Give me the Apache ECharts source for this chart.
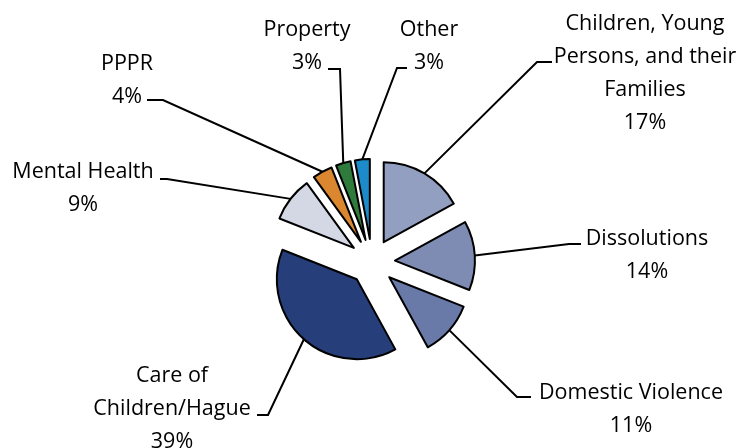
<!DOCTYPE html>
<html>
<head>
<meta charset="utf-8">
<script src="https://cdn.jsdelivr.net/npm/echarts@6/dist/echarts.min.js"></script>
<style>
  html, body { margin: 0; padding: 0; background: #fff; }
  #chart { width: 738px; height: 448px; }
</style>
</head>
<body>
<div id="chart"></div>
<script>
// 类别，从12点方向顺时针
var categories = [
  'Children, Young\nPersons, and their\nFamilies',
  'Dissolutions',
  'Domestic Violence',
  'Care of\nChildren/Hague',
  'Mental Health',
  'PPPR',
  'Property',
  'Other'
];
// 占比 (%)
var shares = [17, 14, 11, 39, 9, 4, 3, 3];

var sliceColors = ['#929fc0', '#7e8cb4', '#6a7aa8', '#263e79', '#d4d8e5', '#db872f', '#2f7b3b', '#1d8bc9'];

// 标签位置：文字块中心 + 引导线末端的短横线
var labelSpots = [
  { x: 645, y: 73, elbow: 537, end: 552, lineY: 62 },
  { x: 647, y: 255, elbow: 569, end: 581, lineY: 244 },
  { x: 631, y: 409, elbow: 517, end: 531, lineY: 397 },
  { x: 172, y: 409, elbow: 268, end: 257, lineY: 415 },
  { x: 83, y: 188, elbow: 167, end: 160, lineY: 179 },
  { x: 127, y: 80, elbow: 163, end: 147, lineY: 100 },
  { x: 307, y: 46, elbow: 340, end: 328, lineY: 69 },
  { x: 429, y: 46, elbow: 397, end: 407, lineY: 68 }
];

var pieCenter = [372, 262];
var pieRadius = 80;
var explode = 23;

var chart = echarts.init(document.getElementById('chart'));

// 分离的扇区（选中态实现爆炸效果），不带标签
var sliceData = categories.map(function (name, i) {
  return {
    name: name,
    value: shares[i],
    selected: true,
    itemStyle: { color: sliceColors[i] }
  };
});

// 透明的同一组数据，只用来放标签和引导线
var labelData = categories.map(function (name, i) {
  return { name: name, value: shares[i] };
});

chart.setOption({
  animation: false,
  series: [{
    type: 'pie',
    center: pieCenter,
    radius: pieRadius,
    startAngle: 90,
    clockwise: true,
    selectedMode: 'multiple',
    selectedOffset: explode,
    silent: true,
    emphasis: { disabled: true },
    itemStyle: { borderColor: '#000', borderWidth: 2 },
    label: { show: false },
    labelLine: { show: false },
    data: sliceData
  }, {
    type: 'pie',
    center: pieCenter,
    radius: pieRadius,
    startAngle: 90,
    clockwise: true,
    silent: true,
    avoidLabelOverlap: false,
    emphasis: { disabled: true },
    itemStyle: { color: 'rgba(0,0,0,0)', borderWidth: 0 },
    label: {
      show: true,
      position: 'outside',
      formatter: function (p) { return p.name + '\n' + p.value + '%'; },
      fontFamily: 'Open Sans',
      fontSize: 21.5,
      lineHeight: 33,
      color: '#000',
      align: 'center'
    },
    labelLine: {
      show: true,
      length: 20,
      length2: 10,
      lineStyle: { color: '#000', width: 2 }
    },
    labelLayout: function (params) {
      var spot = labelSpots[params.dataIndex];
      var p0 = params.labelLinePoints[0];
      // 起点跟着分离出去的扇区移动
      var vx = p0[0] - pieCenter[0], vy = p0[1] - pieCenter[1];
      var len = Math.sqrt(vx * vx + vy * vy) || 1;
      var dx = vx / len * explode, dy = vy / len * explode;
      return {
        x: spot.x,
        y: spot.y,
        align: 'center',
        verticalAlign: 'middle',
        labelLinePoints: [
          [p0[0] + dx, p0[1] + dy],
          [spot.elbow, spot.lineY],
          [spot.end, spot.lineY]
        ]
      };
    },
    data: labelData
  }]
});
</script>
</body>
</html>
